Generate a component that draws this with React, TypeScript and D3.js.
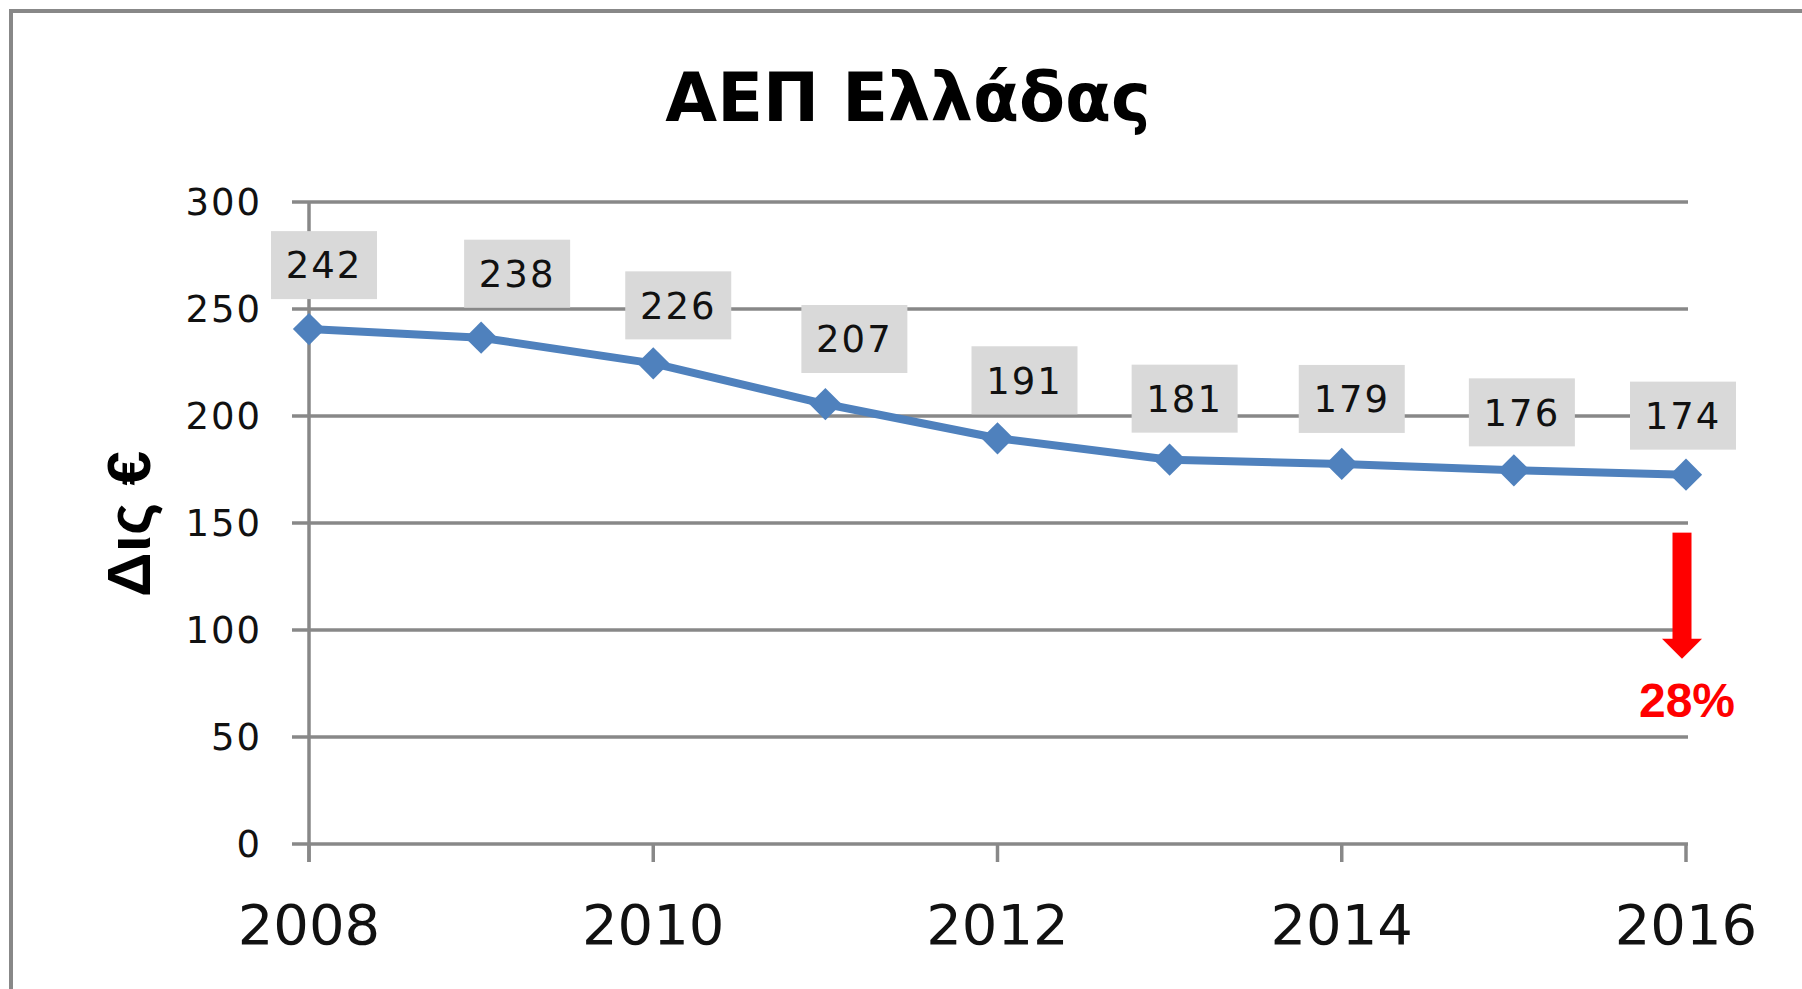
import React from "react";
import * as d3 from "d3";

// ΑΕΠ Ελλάδας, δισ. €
const years = [2008, 2009, 2010, 2011, 2012, 2013, 2014, 2015, 2016];
const gdp = [242, 238, 226, 207, 191, 181, 179, 176, 174];
const yTicks = [0, 50, 100, 150, 200, 250, 300];
const xTicks = [2008, 2010, 2012, 2014, 2016];

// manual label placement (as in the original sheet)
const labelDx = [15, 36, 25, 29, 27, 15, 10, 8, -3];
const labelGap = [27, 27, 21, 28, 21, 24, 28, 21, 22];

const W = 1802;
const H = 989;
const grid = "#888888";
const blue = "#4F81BD";

const App = () => {
  const x = d3.scaleLinear().domain([2008, 2016]).range([309, 1686]);
  const y = d3.scaleLinear().domain([0, 300]).range([844, 202]);

  const line = d3
    .line<number>()
    .x((d, i) => x(years[i]))
    .y((d) => y(d));

  const marker = d3.symbol().type(d3.symbolSquare).size(520)();

  const last = years.length - 1;
  const ax = x(years[last]) - 4;
  const ay = y(gdp[last]);

  return (
    <svg
      width={W}
      height={H}
      style={{ position: "absolute", left: 0, top: 0, background: "#fff" }}
    >
      <rect x={11} y={11} width={1900} height={1100} fill="none" stroke={grid} strokeWidth={4} />

      <text
        x={908}
        y={121}
        textAnchor="middle"
        fontFamily="DejaVu Sans"
        fontWeight="bold"
        fontSize={67}
        fill="#000"
      >
        ΑΕΠ Ελλάδας
      </text>

      <text
        transform="translate(150,524) rotate(-90)"
        textAnchor="middle"
        fontFamily="Liberation Sans"
        fontWeight="bold"
        fontSize={62}
        fill="#000"
      >
        Δις €
      </text>

      {/* gridlines + y ticks */}
      {yTicks.map((t) => (
        <g key={t}>
          <line x1={292} x2={1688} y1={y(t)} y2={y(t)} stroke={grid} strokeWidth={3.5} />
          <text
            x={262}
            y={y(t)}
            dy="0.36em"
            textAnchor="end"
            fontFamily="DejaVu Sans"
            fontSize={37}
            letterSpacing={2}
            fill="#111"
          >
            {t}
          </text>
        </g>
      ))}

      <line x1={x(2008)} x2={x(2008)} y1={202} y2={862} stroke={grid} strokeWidth={3.5} />
      {xTicks.map((t) => (
        <g key={t}>
          <line x1={x(t)} x2={x(t)} y1={844} y2={862} stroke={grid} strokeWidth={3.5} />
          <text
            x={x(t)}
            y={944}
            textAnchor="middle"
            fontFamily="DejaVu Sans"
            fontSize={56}
            fill="#111"
          >
            {t}
          </text>
        </g>
      ))}

      <g transform="translate(0,3)">
        <path d={line(gdp) || ""} fill="none" stroke={blue} strokeWidth={8} strokeLinejoin="round" />
        {gdp.map((v, i) => (
          <path
            key={years[i]}
            d={marker || ""}
            transform={`translate(${x(years[i])},${y(v)}) rotate(45)`}
            fill={blue}
          />
        ))}
      </g>

      {gdp.map((v, i) => {
        const cx = x(years[i]) + labelDx[i];
        const bottom = y(v) - labelGap[i];
        return (
          <g key={"l" + years[i]}>
            <rect x={cx - 53} y={bottom - 68} width={106} height={68} fill="#D9D9D9" />
            <text
              x={cx}
              y={bottom - 34}
              dy="0.36em"
              textAnchor="middle"
              fontFamily="DejaVu Sans"
              fontSize={37}
              letterSpacing={2}
              fill="#111"
            >
              {v}
            </text>
          </g>
        );
      })}

      {/* drop annotation */}
      <rect x={ax - 9.5} y={ay + 61} width={19} height={107} fill="#FF0000" />
      <path
        d={`M${ax - 20},${ay + 167} L${ax + 20},${ay + 167} L${ax},${ay + 187} Z`}
        fill="#FF0000"
      />
      <text
        x={ax + 5}
        y={ay + 245}
        textAnchor="middle"
        fontFamily="Liberation Sans"
        fontWeight="bold"
        fontSize={48}
        fill="#FF0000"
      >
        28%
      </text>
    </svg>
  );
};

export default App;
